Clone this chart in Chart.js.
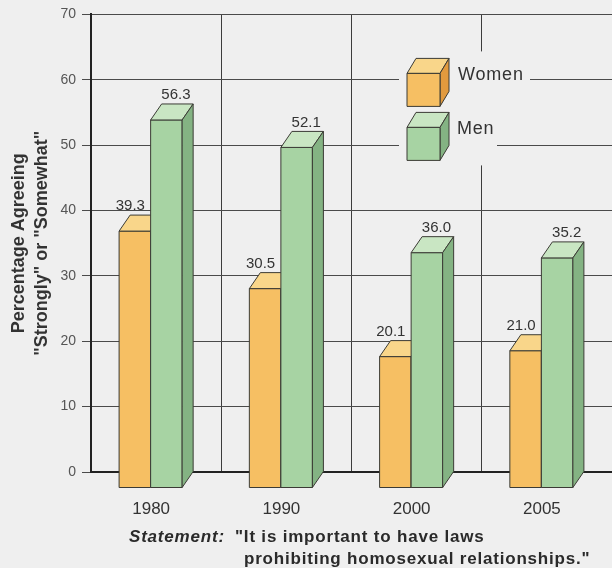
<!DOCTYPE html>
<html>
<head>
<meta charset="utf-8">
<script src="https://cdn.jsdelivr.net/npm/chart.js@4/dist/chart.umd.min.js"></script>
<style>
  html, body { margin: 0; padding: 0; background: #efefef; }
  #wrap { width: 612px; height: 568px; position: relative; }
</style>
</head>
<body>
<div id="wrap"><canvas id="c" width="612" height="568"></canvas></div>
<script>
const categories = ['1980', '1990', '2000', '2005'];
const womenValues = [39.3, 30.5, 20.1, 21.0];
const menValues = [56.3, 52.1, 36.0, 35.2];
const seriesNames = ['Women', 'Men'];
const yTitle = ['Percentage Agreeing', '"Strongly" or "Somewhat"'];
const statementLabel = 'Statement';
const statementLines = ['"It is important to have laws', 'prohibiting homosexual relationships."'];

const FONT = '"Liberation Sans", Arial, Helvetica, sans-serif';
const DX = 11, DY = 16; // 3D depth offset
const palette = {
  Women: { front: '#f6bf63', top: '#f9d68a', side: '#e29a3e' },
  Men:   { front: '#a7d3a3', top: '#c9e6c3', side: '#84b383' }
};
const EDGE = '#3b3b35';

function poly(ctx, pts, fill) {
  ctx.beginPath();
  ctx.moveTo(pts[0][0], pts[0][1]);
  for (let i = 1; i < pts.length; i++) ctx.lineTo(pts[i][0], pts[i][1]);
  ctx.closePath();
  ctx.fillStyle = fill;
  ctx.fill();
  ctx.lineWidth = 1;
  ctx.strokeStyle = EDGE;
  ctx.stroke();
}

const bars3d = {
  id: 'bars3d',
  beforeDatasetDraw() { return false; }, // bars are drawn as 3D boxes below
  afterDatasetsDraw(chart) {
    const ctx = chart.ctx;
    const n = chart.data.labels.length;
    for (let i = 0; i < n; i++) {
      chart.data.datasets.forEach((ds, di) => {
        const el = chart.getDatasetMeta(di).data[i];
        const col = palette[ds.label];
        const p = el.getProps(['x', 'y', 'base', 'width'], true);
        const L = p.x - p.width / 2 - DX / 2, R = L + p.width;
        const T = p.y + DY, B = p.base + DY;
        ctx.save();
        poly(ctx, [[L, T], [R, T], [R, B], [L, B]], col.front);
        poly(ctx, [[L, T], [R, T], [R + DX, T - DY], [L + DX, T - DY]], col.top);
        poly(ctx, [[R, T], [R + DX, T - DY], [R + DX, B - DY], [R, B]], col.side);
        ctx.restore();
      });
    }
    ctx.save();
    ctx.font = '15px ' + FONT;
    ctx.fillStyle = '#333';
    ctx.textAlign = 'center';
    ctx.textBaseline = 'middle';
    chart.data.datasets.forEach((ds, di) => {
      chart.getDatasetMeta(di).data.forEach((el, i) => {
        const p = el.getProps(['x', 'y'], true);
        ctx.fillText(ds.data[i].toFixed(1), p.x + ds.labelShift, p.y - 9);
      });
    });
    ctx.restore();

    // Legend inside the plot
    const a = chart.chartArea;
    const lx = a.left + 316, ly = a.top + 59;
    ctx.save();
    ctx.fillStyle = '#efefef';
    ctx.fillRect(lx - 8, ly - 22, 131, 64);
    ctx.fillRect(lx - 8, ly + 40, 98, 52);
    const cube = (x, y, col) => {
      const s = 33, dx = 9, dy = 15;
      poly(ctx, [[x, y], [x + s, y], [x + s + dx, y - dy], [x + dx, y - dy]], col.top);
      poly(ctx, [[x + s, y], [x + s + dx, y - dy], [x + s + dx, y + s - dy], [x + s, y + s]], col.side);
      poly(ctx, [[x, y], [x + s, y], [x + s, y + s], [x, y + s]], col.front);
    };
    cube(lx, ly, palette.Women);
    cube(lx, ly + 54, palette.Men);
    ctx.font = '18px ' + FONT;
    ctx.letterSpacing = '0.8px';
    ctx.fillStyle = '#333';
    ctx.textBaseline = 'middle';
    ctx.textAlign = 'left';
    ctx.fillText(seriesNames[0], lx + 51, ly + 2);
    ctx.fillText(seriesNames[1], lx + 50, ly + 56);
    ctx.restore();
  },
  afterDraw(chart) {
    const ctx = chart.ctx;
    ctx.save();
    ctx.fillStyle = '#2a2a2a';
    ctx.textBaseline = 'middle';
    ctx.textAlign = 'left';
    ctx.letterSpacing = '0.8px';
    ctx.font = 'italic bold 17px ' + FONT;
    ctx.fillText(statementLabel + ':', 129, 537);
    ctx.font = 'bold 17px ' + FONT;
    ctx.fillText(statementLines[0], 235, 537);
    ctx.fillText(statementLines[1], 244, 559);
    ctx.restore();
  }
};

new Chart(document.getElementById('c'), {
  type: 'bar',
  data: {
    labels: categories,
    datasets: [
      { label: seriesNames[0], data: womenValues, backgroundColor: palette.Women.front,
        borderColor: EDGE, borderWidth: 1, labelShift: -10 },
      { label: seriesNames[1], data: menValues, backgroundColor: palette.Men.front,
        borderColor: EDGE, borderWidth: 1, labelShift: 4 }
    ]
  },
  options: {
    responsive: false,
    animation: false,
    events: [],
    layout: { padding: { top: 14, right: 0, left: 0, bottom: 0 } },
    datasets: { bar: { categoryPercentage: 0.484, barPercentage: 1.0 } },
    plugins: { legend: { display: false }, tooltip: { enabled: false }, title: { display: false } },
    scales: {
      x: {
        offset: true,
        afterFit: (s) => { s.height = 96; },
        grid: { display: true, offset: true, color: '#3c3c3c', lineWidth: 1, drawTicks: false },
        border: { display: true, color: '#222', width: 2 },
        ticks: { color: '#333', font: { family: FONT, size: 17 }, padding: 27, labelOffset: -5 }
      },
      y: {
        min: 0, max: 70,
        afterFit: (s) => { s.width = 91; },
        grid: { color: '#4a4a4a', lineWidth: 1, drawTicks: true, tickLength: 9, tickColor: '#4a4a4a' },
        border: { display: true, color: '#222', width: 2 },
        ticks: { stepSize: 10, color: '#555', font: { family: FONT, size: 14 }, padding: 6 },
        title: { display: true, text: yTitle, color: '#333',
                 font: { family: FONT, size: 18, weight: 'bold', lineHeight: 1.25 },
                 padding: { top: 8, bottom: 0 } }
      }
    }
  },
  plugins: [bars3d]
});
</script>
</body>
</html>
